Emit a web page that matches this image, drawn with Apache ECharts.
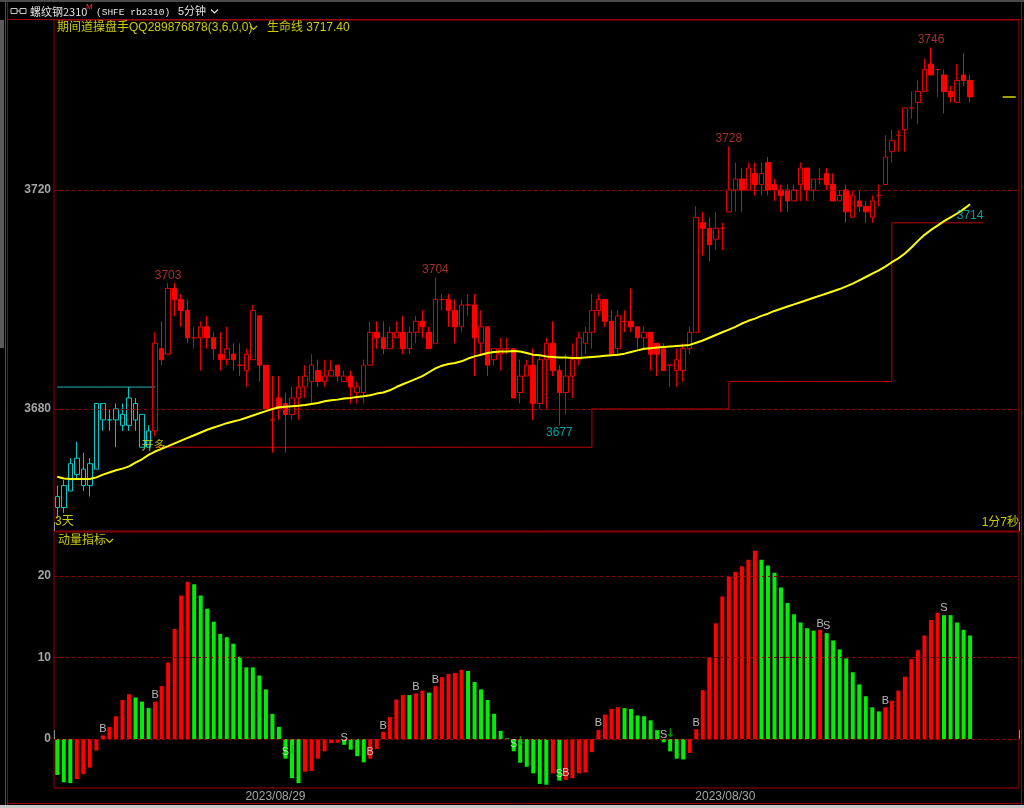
<!DOCTYPE html>
<html><head><meta charset="utf-8">
<script src="https://cdn.jsdelivr.net/npm/echarts@6/dist/echarts.min.js"></script>
<style>html,body{margin:0;padding:0;background:#000;}#c{width:1024px;height:808px;}</style>
</head><body><div id="c"></div>
<script>
// ---------- data ----------
const totalSlots = 148;
const dateLabels = ['2023/08/29', '2023/08/30'];
const dateLabelIdx = [34, 103];
const priceTicks = [3680, 3720];
const momentumTicks = [0, 10, 20];

const opens = [3664,3662,3665,3671,3669,3666,3669,3681,3678,3678,3679,3677,3681,3679,3673,
3676,3691,3690,3702,3700,3698,3693,3693,3695,3693,3690,3689,3690,3688,3687,
3689,3697,3688,3678,3682,3681,3679,3682,3684,3685,
3687,3685,3686,3688,3685,3686,3683,3683,3688,3694,
3693,3691,3693,3694,3691,3694,3696,3694,3692,3700,
3700,3698,3695,3699,3699,3692,3695,3689,3690,3691,
3691,3683,3686,3688,3681,3689,3692,3687,3683,3686,
3689,3692,3694,3698,3700,3696,3691,3696,3696,3695,
3693,3694,3692,3691,3688,3687,3687,3691,3694,3714,
3713,3711,3713,3716,3720,3722,3720,3723,3721,3725,
3721,3720,3720,3718,3721,3724,3720,3722,3723,3721,
3718,3720,3715,3718,3717,3715,3719,3721,3727,3730,
3731,3735,3736,3738,3743,3742,3741,3738,3736,3741,3740];
const closes = [3662,3666,3670,3668,3666,3670,3681,3678,3678,3680,3677,3682,3678,3673,3676,
3692,3689,3702,3700,3698,3693,3693,3695,3693,3691,3689,3691,3689,3688,3690,
3698,3688,3680,3678,3680,3679,3682,3684,3686,3688,
3685,3686,3687,3686,3686,3684,3684,3688,3694,3693,
3691,3694,3694,3691,3694,3696,3695,3691,3700,3700,
3698,3695,3699,3699,3693,3695,3688,3691,3691,3691,
3682,3686,3688,3681,3689,3692,3687,3683,3686,3689,
3693,3694,3698,3700,3696,3690,3697,3696,3695,3693,
3694,3690,3690,3687,3688,3689,3691,3694,3715,3713,
3710,3713,3713,3720,3722,3720,3724,3721,3723,3720,
3720,3719,3718,3720,3724,3720,3722,3722,3721,3718,
3719,3716,3719,3717,3716,3718,3719,3726,3729,3730,
3735,3735,3738,3742,3741,3742,3738,3737,3740,3740,3737];
const lows = [3660,3661,3665,3667,3665,3664,3669,3676,3676,3673,3676,3676,3676,3673,3673,
3675,3688,3690,3697,3695,3692,3691,3687,3691,3689,3687,3688,3687,3686,3684,
3689,3685,3680,3672,3678,3672,3678,3678,3682,3681,
3684,3684,3686,3685,3685,3681,3681,3681,3688,3691,
3690,3691,3693,3690,3690,3692,3693,3691,3692,3698,
3695,3692,3694,3697,3686,3690,3686,3688,3687,3690,
3682,3681,3686,3678,3680,3680,3686,3677,3679,3682,
3688,3690,3691,3697,3695,3690,3690,3694,3694,3691,
3691,3687,3686,3687,3684,3684,3685,3690,3694,3708,
3707,3709,3709,3716,3716,3716,3720,3719,3719,3719,
3718,3716,3716,3718,3718,3718,3718,3721,3720,3718,
3718,3714,3715,3716,3714,3714,3717,3721,3725,3727,
3727,3733,3732,3738,3741,3737,3734,3736,3736,3739,3736];
const highs = [3666,3667,3671,3674,3672,3671,3681,3681,3680,3681,3681,3684,3682,3679,3677,
3694,3696,3703,3703,3701,3700,3695,3696,3697,3694,3694,3695,3692,3692,3691,
3699,3697,3688,3686,3686,3683,3684,3686,3688,3690,
3689,3689,3689,3688,3687,3687,3685,3689,3696,3696,
3696,3695,3696,3697,3695,3697,3698,3695,3704,3701,
3701,3700,3700,3701,3701,3698,3695,3691,3693,3693,
3691,3689,3689,3691,3690,3693,3696,3688,3690,3692,
3694,3695,3701,3701,3700,3698,3698,3698,3702,3695,
3695,3694,3692,3692,3688,3691,3692,3695,3717,3716,
3715,3716,3714,3728,3725,3724,3725,3725,3725,3726,
3722,3721,3721,3721,3725,3724,3722,3724,3724,3723,
3720,3721,3720,3720,3718,3719,3721,3730,3731,3731,
3735,3738,3740,3744,3746,3742,3742,3739,3743,3745,3741];

// 生命线 (life line)
const lifeLine = [3667.6,3667.3,3667.2,3667.2,3667.2,3667.2,3667.5,3668.0,3668.4,3668.8,
3669.1,3669.5,3670.2,3670.8,3671.6,3672.2,3672.7,3673.2,3673.7,3674.2,
3674.7,3675.2,3675.7,3676.2,3676.6,3677.0,3677.4,3677.7,3678.0,3678.4,
3678.8,3679.2,3679.6,3680.0,3680.3,3680.4,3680.5,3680.6,3680.7,3680.9,
3681.1,3681.4,3681.6,3681.7,3681.9,3682.0,3682.2,3682.3,3682.5,3682.8,
3683.0,3683.4,3684.0,3684.5,3685.0,3685.5,3686.0,3686.7,3687.4,3687.9,
3688.2,3688.4,3688.7,3689.2,3689.6,3689.9,3690.2,3690.4,3690.5,3690.5,
3690.6,3690.5,3690.2,3689.9,3689.8,3689.6,3689.5,3689.4,3689.4,3689.3,
3689.3,3689.4,3689.5,3689.6,3689.7,3689.8,3689.9,3690.1,3690.4,3690.7,
3691.0,3691.1,3691.2,3691.3,3691.4,3691.5,3691.6,3691.7,3692.1,3692.5,
3693.0,3693.5,3694.0,3694.5,3695.0,3695.6,3696.1,3696.5,3697.0,3697.4,
3697.9,3698.3,3698.7,3699.1,3699.5,3699.9,3700.3,3700.7,3701.1,3701.5,
3701.9,3702.4,3702.9,3703.5,3704.1,3704.7,3705.3,3706.0,3706.8,3707.5,
3708.4,3709.5,3710.7,3711.8,3712.7,3713.5,3714.3,3715.0,3715.7,3716.5,3717.4];
const lifeLineLast = '3717.40';

// 动量指标 (momentum histogram)
const momentum = [-4.4,-5.3,-5.4,-4.9,-4.3,-3.5,-1.4,0.45,1.5,2.8,
4.8,5.5,5.1,4.6,3.8,4.6,6.5,9.4,13.5,17.6,
19.3,19.0,17.6,16.0,14.4,12.9,12.5,11.7,10.1,8.8,
8.8,7.8,6.1,3.1,1.5,-2.4,-4.8,-5.4,-4.0,-3.9,
-2.4,-1.5,-0.5,-0.45,-0.7,-1.3,-2.1,-2.85,-2.4,-1.2,
0.9,2.7,4.85,5.4,5.4,5.6,5.95,5.7,6.5,7.6,
8.0,8.1,8.5,8.35,7.0,6.1,4.8,3.1,1.0,0.1,
-1.5,-2.9,-3.4,-4.2,-5.5,-5.6,-4.2,-5.1,-5.0,-4.8,
-4.2,-4.1,-1.6,1.1,3.0,3.7,3.9,3.8,3.7,2.9,
2.8,2.3,1.1,-0.4,-1.5,-2.4,-2.5,-1.7,1.2,6.0,
10.0,14.2,17.5,19.9,20.5,21.2,22.0,23.1,22.0,21.3,
20.4,18.6,16.7,15.3,14.3,13.6,13.3,13.4,13.0,12.1,
11.0,9.9,8.2,6.7,5.25,3.9,3.4,3.9,4.7,5.95,
7.65,9.8,10.9,12.7,14.6,15.5,15.2,15.2,14.3,13.4,12.7];

// B/S signals on the momentum panel (value = where the letter sits)
const signalIdx   = [7, 15, 35, 44, 48, 50, 55, 58, 70, 77, 78, 83, 93, 98, 117, 118, 127, 136];
const signalText  = ['B','B','S','S','B','B','B','B','S','S','B','B','S','B','B','S','B','S'];
const signalLevel = [1.2, 5.4, -1.55, 0.1, -1.55, 1.6, 6.4, 7.2, -0.6, -4.3, -4.2, 2.0, 0.5, 2.0, 14.1, 13.9, 4.7, 16.1];
const arrowIdx   = [36, 71, 94];
const arrowLevel = [-1.4, -0.3, 0.7];

// price annotations
const shortPhaseEnd = 15;          // bars before this are the cyan (short) phase
const openLongIdx = 14;            // 开多 signal
const highLabelIdx = [17, 58, 103, 134];
const lowLabelIdx = [77];
const resistLevel = 3684, resistStart = 0, resistEnd = 15;
const stopStartIdx = [15, 82, 103, 128];
const stopLevels = [3673, 3680, 3685, 3714];
const stopEndIdx = 141;
const lastPriceIdx = [145, 146, 147];

// ---------- build ----------
const categories = Array.from({length: totalSlots}, (_, i) => String(i));
const CYAN = '#00f0f0', CYAN_B = '#00c8c8', RED = '#ff0000', RED_B = '#e00000';
const candleData = opens.map((o, i) => {
  const v = [o, closes[i], lows[i], highs[i]];
  if (i < shortPhaseEnd) return {value: v, itemStyle: {color: 'transparent', color0: CYAN, borderColor: CYAN_B, borderColor0: CYAN}};
  return v;
});
const stopLine = Array(totalSlots).fill('-');
stopStartIdx.forEach((s, k) => {
  const e = k + 1 < stopStartIdx.length ? stopStartIdx[k + 1] - 1 : stopEndIdx;
  for (let i = s; i <= e; i++) stopLine[i] = stopLevels[k];
});
const resistLine = Array(totalSlots).fill('-');
for (let i = resistStart; i <= resistEnd; i++) resistLine[i] = resistLevel;
const lastLine = Array(totalSlots).fill('-');
lastPriceIdx.forEach(i => lastLine[i] = closes[closes.length - 1]);
const momData = momentum.map((v, i) => ({value: v, itemStyle: {color: (i > 0 && v > momentum[i - 1]) ? '#ff0000' : '#00ee00'}}));

const NUM = "'Liberation Sans', Arial, sans-serif";
const CJK = "'Liberation Sans', 'Noto Sans CJK SC', sans-serif";
const YEL = '#cccc00';
const AXC = '#a4a4a4';
const gridLineStyle = {color: '#8a0000', type: [3, 3], width: 1};
const tickFn = i => i === dateLabelIdx[1];

const chart = echarts.init(document.getElementById('c'));
chart.setOption({
  backgroundColor: '#000',
  animation: false,
  grid: [
    {left: 54, top: 20, width: 965, height: 511, show: true, borderColor: '#a00000', borderWidth: 1},
    {left: 54, top: 532, width: 965, height: 256, show: true, borderColor: '#a00000', borderWidth: 1}
  ],
  xAxis: [
    {type: 'category', gridIndex: 0, data: categories, boundaryGap: true,
     axisLine: {show: false}, axisLabel: {show: false}, splitLine: {show: false},
     axisTick: {show: true, inside: true, length: 9, interval: tickFn, lineStyle: {color: '#909090'}}},
    {type: 'category', gridIndex: 1, data: categories, boundaryGap: true,
     axisLine: {show: false}, splitLine: {show: false},
     axisTick: {show: true, inside: true, length: 9, interval: tickFn, lineStyle: {color: '#909090'}},
     axisLabel: {interval: i => dateLabelIdx.includes(i), formatter: (v, i) => dateLabels[dateLabelIdx.indexOf(i)] || '',
       color: AXC, fontSize: 12, fontFamily: NUM, margin: 3, padding: [0, 7, 0, 0], hideOverlap: false}}
  ],
  yAxis: [
    {type: 'value', gridIndex: 0, min: 3657.7, max: 3751.05, show: false, splitLine: {show: false}},
    {type: 'value', gridIndex: 1, min: -6.0, max: 25.4, show: false, splitLine: {show: false}}
  ],
  series: [
    {type: 'candlestick', xAxisIndex: 0, yAxisIndex: 0, data: candleData, barWidth: 5, z: 3,
     itemStyle: {color: 'transparent', color0: RED, borderColor: RED_B, borderColor0: RED, borderWidth: 1},
     markLine: {symbol: 'none', silent: true, lineStyle: gridLineStyle,
       label: {position: 'start', distance: 3, color: AXC, fontSize: 12, fontFamily: NUM, fontWeight: 'bold', formatter: p => p.value},
       data: priceTicks.map(v => ({yAxis: v}))}},
    {type: 'line', xAxisIndex: 0, yAxisIndex: 0, data: stopLine, step: 'end', symbol: 'none', z: 2,
     lineStyle: {color: '#c00000', width: 1}},
    {type: 'line', xAxisIndex: 0, yAxisIndex: 0, data: resistLine, symbol: 'none', z: 2,
     lineStyle: {color: '#20b8b8', width: 1}},
    {type: 'line', xAxisIndex: 0, yAxisIndex: 0, data: lifeLine, symbol: 'none', z: 5,
     lineStyle: {color: '#ffff00', width: 2}},
    {type: 'line', xAxisIndex: 0, yAxisIndex: 0, data: lastLine, symbol: 'none', z: 5,
     lineStyle: {color: '#a0a000', width: 2}},
    {type: 'scatter', xAxisIndex: 0, yAxisIndex: 0, symbolSize: 1, itemStyle: {color: 'transparent'}, z: 6,
     data: highLabelIdx.map(i => [i, highs[i]]),
     label: {show: true, position: 'top', distance: 1, color: '#cc3a3a', fontSize: 12, fontFamily: NUM, formatter: p => p.value[1]}},
    {type: 'scatter', xAxisIndex: 0, yAxisIndex: 0, symbolSize: 1, itemStyle: {color: 'transparent'}, z: 6,
     data: lowLabelIdx.map(i => [i, lows[i]]),
     label: {show: true, position: 'bottom', distance: 1, color: '#00c8c8', fontSize: 12, fontFamily: NUM, formatter: p => p.value[1]}},
    {type: 'scatter', xAxisIndex: 0, yAxisIndex: 0, symbolSize: 1, itemStyle: {color: 'transparent'}, z: 6,
     data: [[stopEndIdx - 1, stopLevels[stopLevels.length - 1]]],
     label: {show: true, position: 'top', distance: 1, color: '#00c8c8', fontSize: 12, fontFamily: NUM, formatter: p => p.value[1]}},
    {type: 'scatter', xAxisIndex: 0, yAxisIndex: 0, symbolSize: 1, itemStyle: {color: 'transparent'}, z: 6,
     data: [[openLongIdx, stopLevels[0]]],
     label: {show: true, position: 'inside', offset: [5, -1], color: '#e0e000', fontSize: 12, fontFamily: CJK, formatter: '开多'}},
    {type: 'bar', xAxisIndex: 1, yAxisIndex: 1, data: momData, barWidth: 4, z: 3,
     markLine: {symbol: 'none', silent: true, lineStyle: gridLineStyle,
       label: {position: 'start', distance: 3, color: AXC, fontSize: 12, fontFamily: NUM, fontWeight: 'bold', formatter: p => p.value},
       data: momentumTicks.map(v => ({yAxis: v}))}},
    {type: 'scatter', xAxisIndex: 1, yAxisIndex: 1, symbolSize: 1, itemStyle: {color: 'transparent'}, z: 6,
     data: signalIdx.map((i, k) => ({value: [i, signalLevel[k]], name: signalText[k]})),
     label: {show: true, position: 'inside', color: '#e4e4e4', fontSize: 11, fontFamily: NUM, formatter: p => p.name}},
    {type: 'scatter', xAxisIndex: 1, yAxisIndex: 1, symbolSize: 1, itemStyle: {color: 'transparent'}, z: 6,
     data: arrowIdx.map((i, k) => [i, arrowLevel[k]]),
     label: {show: true, position: 'inside', color: '#00c000', fontSize: 12, fontWeight: 'bold', fontFamily: "'DejaVu Sans', sans-serif", formatter: '↓'}}
  ],
  graphic: [
    {type: 'rect', shape: {x: 0, y: 0, width: 1024, height: 2}, style: {fill: '#4a4a4a'}, silent: true},
    {type: 'rect', shape: {x: 0, y: 20, width: 4, height: 328}, style: {fill: '#5a5a5a'}, silent: true},
    {type: 'line', shape: {x1: 5.5, y1: 0, x2: 5.5, y2: 808}, style: {stroke: '#505050', lineWidth: 1}, silent: true},
    {type: 'line', shape: {x1: 7.5, y1: 2, x2: 7.5, y2: 805}, style: {stroke: '#a00000', lineWidth: 1}, silent: true},
    {type: 'line', shape: {x1: 7, y1: 19.5, x2: 1022, y2: 19.5}, style: {stroke: '#a00000', lineWidth: 1}, silent: true},
    {type: 'line', shape: {x1: 1021.5, y1: 2, x2: 1021.5, y2: 805}, style: {stroke: '#a00000', lineWidth: 1}, silent: true},
    {type: 'line', shape: {x1: 7, y1: 803.5, x2: 1022, y2: 803.5}, style: {stroke: '#a00000', lineWidth: 1}, silent: true},
    {type: 'rect', shape: {x: 0, y: 805, width: 1024, height: 3}, style: {fill: '#c8c8c8'}, silent: true},
    // title bar
    {type: 'rect', shape: {x: 11, y: 8.5, width: 6, height: 5}, style: {fill: null, stroke: '#c8c8c8', lineWidth: 1}, silent: true},
    {type: 'rect', shape: {x: 20, y: 8.5, width: 6, height: 5}, style: {fill: null, stroke: '#c8c8c8', lineWidth: 1}, silent: true},
    {type: 'line', shape: {x1: 17, y1: 11, x2: 20, y2: 11}, style: {stroke: '#c8c8c8', lineWidth: 1}, silent: true},
    {type: 'text', x: 30, y: 11.5, style: {text: '螺纹钢2310', fill: '#e4e4e4', font: "11px 'Noto Sans CJK SC', sans-serif", verticalAlign: 'middle'}, silent: true},
    {type: 'text', x: 86, y: 7, style: {text: 'M', fill: '#ff3030', font: "8px 'Liberation Sans'", verticalAlign: 'middle'}, silent: true},
    {type: 'text', x: 96, y: 12, style: {text: '(SHFE rb2310)', fill: '#e4e4e4', font: "9.5px 'Liberation Mono', monospace", verticalAlign: 'middle'}, silent: true},
    {type: 'text', x: 178, y: 11.5, style: {text: '5分钟', fill: '#e4e4e4', font: "11px " + CJK, verticalAlign: 'middle'}, silent: true},
    {type: 'polyline', shape: {points: [[211, 9.5], [214.5, 13], [218, 9.5]]}, style: {stroke: '#e4e4e4', lineWidth: 1.2, fill: null}, silent: true},
    // legend line
    {type: 'text', x: 57, y: 27.5, style: {text: '期间道操盘手QQ289876878(3,6,0,0)', fill: YEL, font: "12px " + CJK, verticalAlign: 'middle'}, silent: true},
    {type: 'polyline', shape: {points: [[250, 26], [253.5, 29.5], [257, 26]]}, style: {stroke: YEL, lineWidth: 1.2, fill: null}, silent: true},
    {type: 'text', x: 267, y: 27.5, style: {text: '生命线 ' + lifeLineLast, fill: YEL, font: "12px " + CJK, verticalAlign: 'middle'}, silent: true},
    {type: 'text', x: 55, y: 522, style: {text: '3天', fill: YEL, font: "12px " + CJK, verticalAlign: 'middle'}, silent: true},
    {type: 'text', x: 1019, y: 523, style: {text: '1分7秒', fill: YEL, font: "12px " + CJK, verticalAlign: 'middle', align: 'right'}, silent: true},
    {type: 'text', x: 58, y: 541, style: {text: '动量指标', fill: YEL, font: "12px " + CJK, verticalAlign: 'middle'}, silent: true},
    {type: 'polyline', shape: {points: [[106, 539], [109.5, 542.5], [113, 539]]}, style: {stroke: YEL, lineWidth: 1.2, fill: null}, silent: true}
  ]
});
</script>
</body></html>
